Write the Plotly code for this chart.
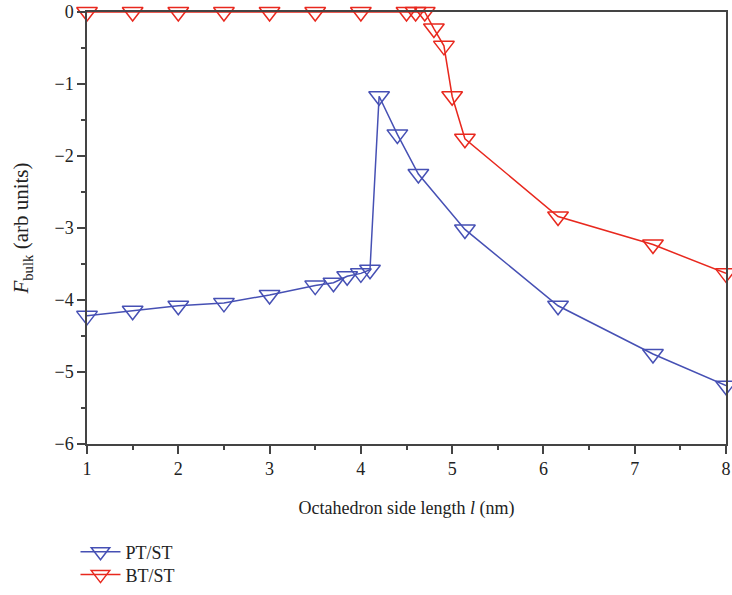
import plotly.graph_objects as go

pt_x = [1.0, 1.5, 2.0, 2.5, 3.0, 3.5, 3.7, 3.85, 4.0, 4.1, 4.2, 4.4, 4.63, 5.14, 6.16, 7.2, 8.0]
pt_y = [-4.22, -4.15, -4.08, -4.04, -3.93, -3.80, -3.76, -3.67, -3.63, -3.58, -1.17, -1.70, -2.25, -3.02, -4.08, -4.75, -5.19]

bt_x = [1.0, 1.5, 2.0, 2.5, 3.0, 3.5, 4.0, 4.5, 4.6, 4.7, 4.8, 4.91, 5.0, 5.14, 6.16, 7.2, 8.0]
bt_y = [0, 0, 0, 0, 0, 0, 0, 0, 0, 0, -0.23, -0.47, -1.17, -1.76, -2.84, -3.23, -3.63]

blue = "#4650b4"
red = "#e8281e"
font = "Liberation Serif"
fsize = 18

fig = go.Figure()
fig.add_trace(go.Scatter(x=pt_x, y=pt_y, mode="lines+markers", name="PT/ST",
                         legend="legend",
                         line=dict(color=blue, width=1.5),
                         marker=dict(symbol="triangle-down-open", size=18,
                                     color=blue, line=dict(width=1.5)),
                         cliponaxis=False))
fig.add_trace(go.Scatter(x=bt_x, y=bt_y, mode="lines+markers", name="BT/ST",
                         legend="legend2",
                         line=dict(color=red, width=1.5),
                         marker=dict(symbol="triangle-down-open", size=18,
                                     color=red, line=dict(width=1.5)),
                         cliponaxis=False))

axis_common = dict(showgrid=False, zeroline=False, showline=True, mirror=True,
                   linecolor="#444", linewidth=1.5, ticks="outside", ticklen=8,
                   tickwidth=1.5, tickcolor="#444", ticklabeloverflow="allow",
                   tickfont=dict(family=font, size=fsize, color="#222"))

fig.update_xaxes(range=[1, 8], dtick=1,
                 minor=dict(dtick=0.5, ticks="outside", ticklen=4, tickwidth=1.5, tickcolor="#444"),
                 title=dict(text="Octahedron side length <i>l</i> (nm)",
                            font=dict(family=font, size=fsize, color="#222"), standoff=23),
                 **axis_common)
fig.update_yaxes(range=[-6, 0], dtick=1, tickformat="d",
                 minor=dict(dtick=0.5, ticks="outside", ticklen=4, tickwidth=1.5, tickcolor="#444"),
                 title=dict(text="<i>F</i><sub>bulk</sub> (arb units)",
                            font=dict(family=font, size=21, color="#222"), standoff=20),
                 **axis_common)

leg_common = dict(xanchor="left", yanchor="middle",
                  font=dict(family=font, size=fsize, color="#222"),
                  itemwidth=40, bgcolor="rgba(0,0,0,0)", borderwidth=0)

fig.update_layout(
    width=732, height=595,
    margin=dict(l=87, r=1, t=12, b=148),
    plot_bgcolor="white", paper_bgcolor="white",
    font=dict(family=font, size=fsize, color="#222"),
    showlegend=True,
    legend=dict(x=-0.018, y=-0.25, **leg_common),
    legend2=dict(x=-0.018, y=-0.303, **leg_common),
)

fig.write_html("out.html", config={"displayModeBar": False},
               post_script="document.body.style.margin='0';document.body.style.overflow='hidden';")
